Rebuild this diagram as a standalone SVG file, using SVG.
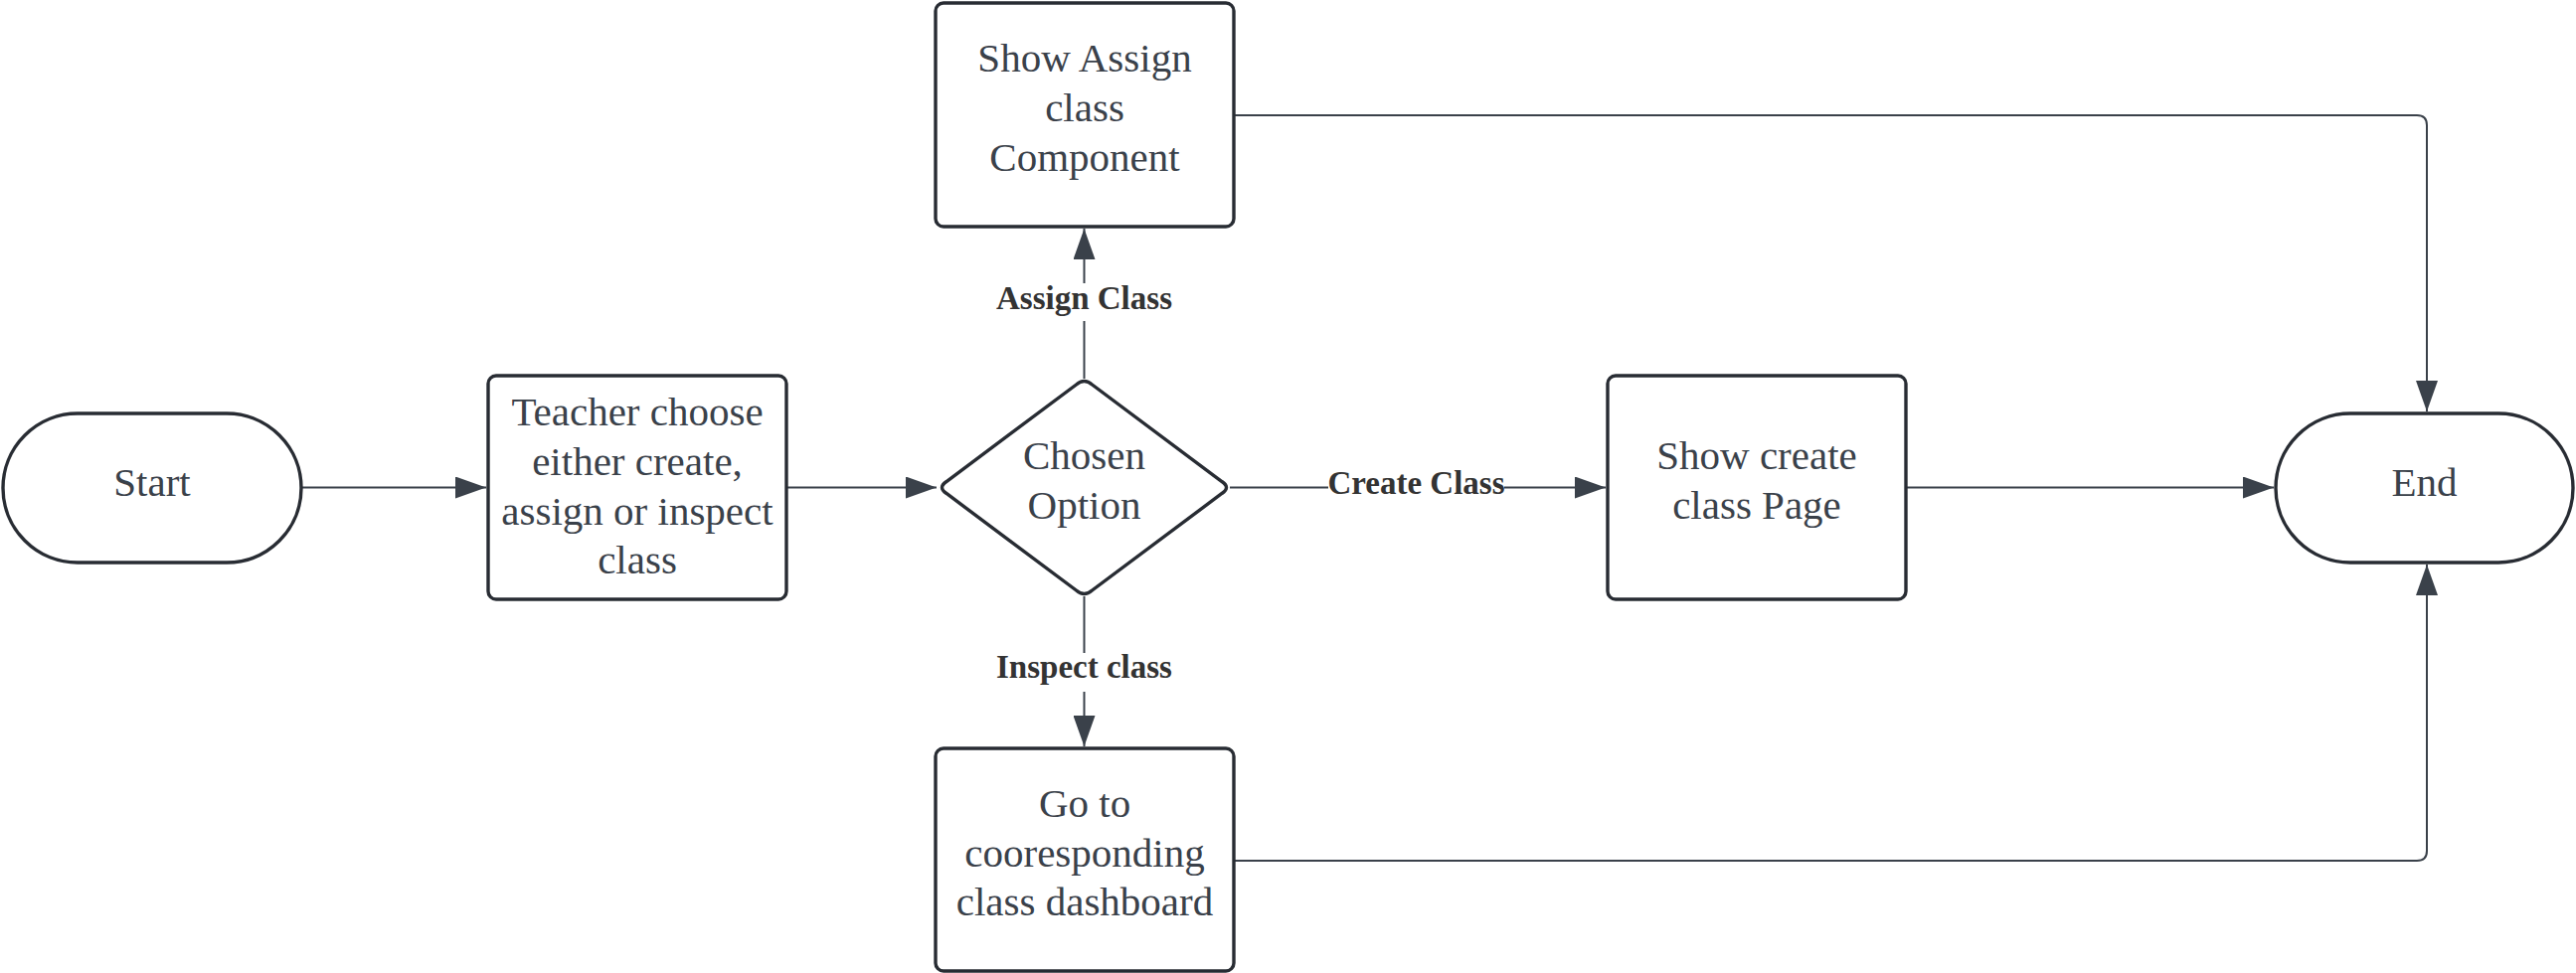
<svg xmlns="http://www.w3.org/2000/svg" width="2591" height="979" viewBox="0 0 2591 979">
<style>
.shape{fill:#ffffff;stroke:#282c33;stroke-width:3.4}
.txt{font-family:"Liberation Serif","Times New Roman",serif;font-size:41px;fill:#3a414a;text-anchor:middle}
.conn{fill:none;stroke:#3a414a;stroke-width:2}
.lbl{font-family:"Liberation Serif","Times New Roman",serif;font-size:33px;font-weight:bold;fill:#333333;text-anchor:middle}
.lblbg{fill:#ffffff}
</style>
<defs>
<marker id="arr" markerUnits="userSpaceOnUse" markerWidth="32" markerHeight="22" refX="31" refY="11" orient="auto">
<path d="M0,0 L31,11 L0,22 Z" fill="#3a414a"/>
</marker>
</defs>
<rect width="2591" height="979" fill="#ffffff"/>
<g id="connectors">
<path class="conn" d="M303,490.5 H489" marker-end="url(#arr)"/>
<path class="conn" d="M791,490.5 H942" marker-end="url(#arr)"/>
<path class="conn" d="M1237,490.5 H1615" marker-end="url(#arr)"/>
<path class="conn" d="M1090.5,381 V230" marker-end="url(#arr)"/>
<path class="conn" d="M1090.5,600 V751" marker-end="url(#arr)"/>
<path class="conn" d="M1917,490.5 H2287" marker-end="url(#arr)"/>
<path class="conn" d="M1241,116 H2431 Q2441,116 2441,126 V414" marker-end="url(#arr)"/>
<path class="conn" d="M1241,866 H2431 Q2441,866 2441,856 V568" marker-end="url(#arr)"/>
<g id="label-create">
<rect class="lblbg" x="1336" y="470" width="177" height="36"/>
<text class="lbl" x="1424.5" y="497">Create Class</text>
</g>
<g id="label-assign">
<rect class="lblbg" x="1000" y="285" width="181" height="38"/>
<text class="lbl" x="1090.5" y="311">Assign Class</text>
</g>
<g id="label-inspect">
<rect class="lblbg" x="1000" y="657" width="181" height="39"/>
<text class="lbl" x="1090.5" y="682">Inspect class</text>
</g>
</g>
<g id="start">
<rect class="shape" x="3" y="416" width="300" height="150" rx="75" ry="75"/>
<text class="txt" x="153" y="499">Start</text>
</g>
<g id="teacher">
<rect class="shape" x="491" y="378" width="300" height="225" rx="8" ry="8"/>
<text class="txt" x="641" y="428">Teacher choose</text>
<text class="txt" x="641" y="478">either create,</text>
<text class="txt" x="641" y="528">assign or inspect</text>
<text class="txt" x="641" y="577">class</text>
</g>
<g id="chosen">
<path class="shape" d="M1098.5,387 L1229,484.5 Q1238,490.5 1229,496.5 L1098.5,594 Q1090.5,601 1082.5,594 L952,496.5 Q943,490.5 952,484.5 L1082.5,387 Q1090.5,380 1098.5,387 Z"/>
<text class="txt" x="1090.5" y="472">Chosen</text>
<text class="txt" x="1090.5" y="522">Option</text>
</g>
<g id="assign">
<rect class="shape" x="941" y="3" width="300" height="225" rx="8" ry="8"/>
<text class="txt" x="1091" y="72">Show Assign</text>
<text class="txt" x="1091" y="122">class</text>
<text class="txt" x="1091" y="172">Component</text>
</g>
<g id="goto">
<rect class="shape" x="941" y="753" width="300" height="224" rx="8" ry="8"/>
<text class="txt" x="1091" y="822">Go to</text>
<text class="txt" x="1091" y="872">cooresponding</text>
<text class="txt" x="1091" y="921">class dashboard</text>
</g>
<g id="create">
<rect class="shape" x="1617" y="378" width="300" height="225" rx="8" ry="8"/>
<text class="txt" x="1767" y="472">Show create</text>
<text class="txt" x="1767" y="522">class Page</text>
</g>
<g id="end">
<rect class="shape" x="2289" y="416" width="299" height="150" rx="75" ry="75"/>
<text class="txt" x="2438.5" y="499">End</text>
</g>
</svg>
